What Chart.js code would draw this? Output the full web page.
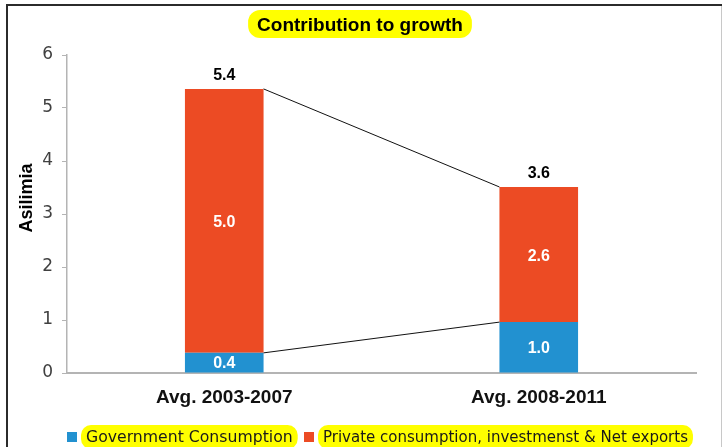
<!DOCTYPE html>
<html>
<head>
<meta charset="utf-8">
<script src="https://cdn.jsdelivr.net/npm/chart.js@4"></script>
<style>
  html, body { margin: 0; padding: 0; background: #fff; }
  #wrap { width: 724px; height: 447px; position: relative; }
</style>
</head>
<body>
<div id="wrap"><canvas id="chart" width="724" height="447"></canvas></div>
<script>
// values
const categories = ['Avg. 2003-2007', 'Avg. 2008-2011'];
const governmentValues = [0.38, 0.96];
const privateValues = [4.98, 2.55];
const governmentLabels = ['0.4', '1.0'];
const privateLabels = ['5.0', '2.6'];
const totalLabels = ['5.4', '3.6'];
const yTicks = [0, 1, 2, 3, 4, 5, 6];

const seriesNames = ['Government Consumption', 'Private consumption, investmenst & Net exports'];
const blue = '#2291d0';
const red = '#ec4b24';
const yellow = '#ffff00';

const roundRect = (ctx, x, y, w, h, r) => {
    ctx.beginPath();
    ctx.moveTo(x + r, y);
    ctx.arcTo(x + w, y, x + w, y + h, r);
    ctx.arcTo(x + w, y + h, x, y + h, r);
    ctx.arcTo(x, y + h, x, y, r);
    ctx.arcTo(x, y, x + w, y, r);
    ctx.closePath();
};

// frame round the picture
const framePlugin = {
    id: 'frame',
    beforeDraw(chart) {
        const ctx = chart.ctx;
        ctx.save();
        ctx.fillStyle = '#fff';
        ctx.fillRect(0, 0, chart.width, chart.height);
        ctx.strokeStyle = '#2b2b2b';
        ctx.lineWidth = 2;
        ctx.beginPath();
        ctx.moveTo(7, 460);
        ctx.lineTo(7, 5);
        ctx.lineTo(722, 5);
        ctx.stroke();
        ctx.strokeStyle = '#c8c8c8';
        ctx.lineWidth = 1;
        ctx.beginPath();
        ctx.moveTo(721.5, 6);
        ctx.lineTo(721.5, 447);
        ctx.stroke();
        ctx.restore();
    }
};

// highlighted title, axis title and legend
const textPlugin = {
    id: 'texts',
    afterDraw(chart) {
        const ctx = chart.ctx;
        ctx.save();
        // title
        ctx.font = 'bold 19px "Liberation Sans", Arial, sans-serif';
        const title = 'Contribution to growth';
        const tw = ctx.measureText(title).width;
        const cx = 360;
        ctx.fillStyle = yellow;
        roundRect(ctx, cx - tw / 2 - 9, 10, tw + 18, 28, 12);
        ctx.fill();
        ctx.fillStyle = '#000';
        ctx.textAlign = 'center';
        ctx.textBaseline = 'middle';
        ctx.fillText(title, cx, 26);

        // y axis title
        ctx.save();
        ctx.translate(27, 198);
        ctx.rotate(-Math.PI / 2);
        ctx.font = 'bold 18px "Liberation Sans", Arial, sans-serif';
        ctx.fillText('Asilimia', 0, 0);
        ctx.restore();

        // legend
        const colors = [blue, red];
        const fontSizes = [15.7, 15];
        const itemX = [67, 304];
        const y = 437;
        ctx.textAlign = 'left';
        seriesNames.forEach((name, i) => {
            const x = itemX[i];
            ctx.font = fontSizes[i] + 'px "DejaVu Sans", sans-serif';
            ctx.fillStyle = colors[i];
            ctx.fillRect(x, y - 5, 10, 10);
            const w = ctx.measureText(name).width;
            ctx.fillStyle = yellow;
            roundRect(ctx, x + 14, y - 12, w + 10, 24, 10);
            ctx.fill();
            ctx.fillStyle = '#1a1a1a';
            ctx.fillText(name, x + 19, y + 1);
        });
        ctx.restore();
    }
};

// connector lines and value labels
const barLabelPlugin = {
    id: 'barLabels',
    afterDatasetsDraw(chart) {
        const ctx = chart.ctx;
        const gov = chart.getDatasetMeta(0).data;
        const priv = chart.getDatasetMeta(1).data;
        ctx.save();
        ctx.strokeStyle = '#111';
        ctx.lineWidth = 1;
        ctx.beginPath();
        ctx.moveTo(priv[0].x + priv[0].width / 2, priv[0].y);
        ctx.lineTo(priv[1].x - priv[1].width / 2, priv[1].y);
        ctx.moveTo(gov[0].x + gov[0].width / 2, gov[0].y);
        ctx.lineTo(gov[1].x - gov[1].width / 2, gov[1].y);
        ctx.stroke();

        ctx.font = 'bold 16px "Liberation Sans", Arial, sans-serif';
        ctx.textAlign = 'center';
        ctx.textBaseline = 'middle';
        ctx.fillStyle = '#fff';
        gov.forEach((b, i) => ctx.fillText(governmentLabels[i], b.x, (b.y + b.base) / 2 + 1));
        priv.forEach((b, i) => ctx.fillText(privateLabels[i], b.x, (b.y + b.base) / 2 + 2));
        ctx.fillStyle = '#000';
        priv.forEach((b, i) => ctx.fillText(totalLabels[i], b.x, b.y - 13));
        ctx.restore();
    }
};

new Chart(document.getElementById('chart'), {
    type: 'bar',
    data: {
        labels: categories,
        datasets: [
            {label: seriesNames[0], data: governmentValues, backgroundColor: blue},
            {label: seriesNames[1], data: privateValues, backgroundColor: red}
        ]
    },
    options: {
        responsive: false,
        animation: false,
        devicePixelRatio: 1,
        layout: {padding: {left: 0, right: 28, top: 55, bottom: 0}},
        datasets: {bar: {categoryPercentage: 1, barPercentage: 0.25}},
        plugins: {
            legend: {display: false},
            title: {display: false},
            tooltip: {enabled: false}
        },
        scales: {
            x: {
                stacked: true,
                grid: {display: false, drawTicks: false},
                border: {display: true, color: '#b4b4b4', width: 2},
                ticks: {
                    padding: 13,
                    color: '#111',
                    font: {family: '"Liberation Sans", Arial, sans-serif', size: 19, weight: 'bold'}
                },
                afterFit: (s) => { s.height = 74; }
            },
            y: {
                stacked: true,
                min: 0,
                max: 6,
                afterBuildTicks: (s) => { s.ticks = yTicks.map(v => ({value: v})); },
                grid: {drawOnChartArea: false, drawTicks: true, tickLength: 5, color: '#b4b4b4'},
                border: {display: true, color: '#b4b4b4', width: 1.5},
                ticks: {
                    padding: 9,
                    color: '#404040',
                    font: {family: '"DejaVu Sans", sans-serif', size: 17}
                },
                afterFit: (s) => { s.width = 67; }
            }
        }
    },
    plugins: [framePlugin, textPlugin, barLabelPlugin]
});
</script>
</body>
</html>
